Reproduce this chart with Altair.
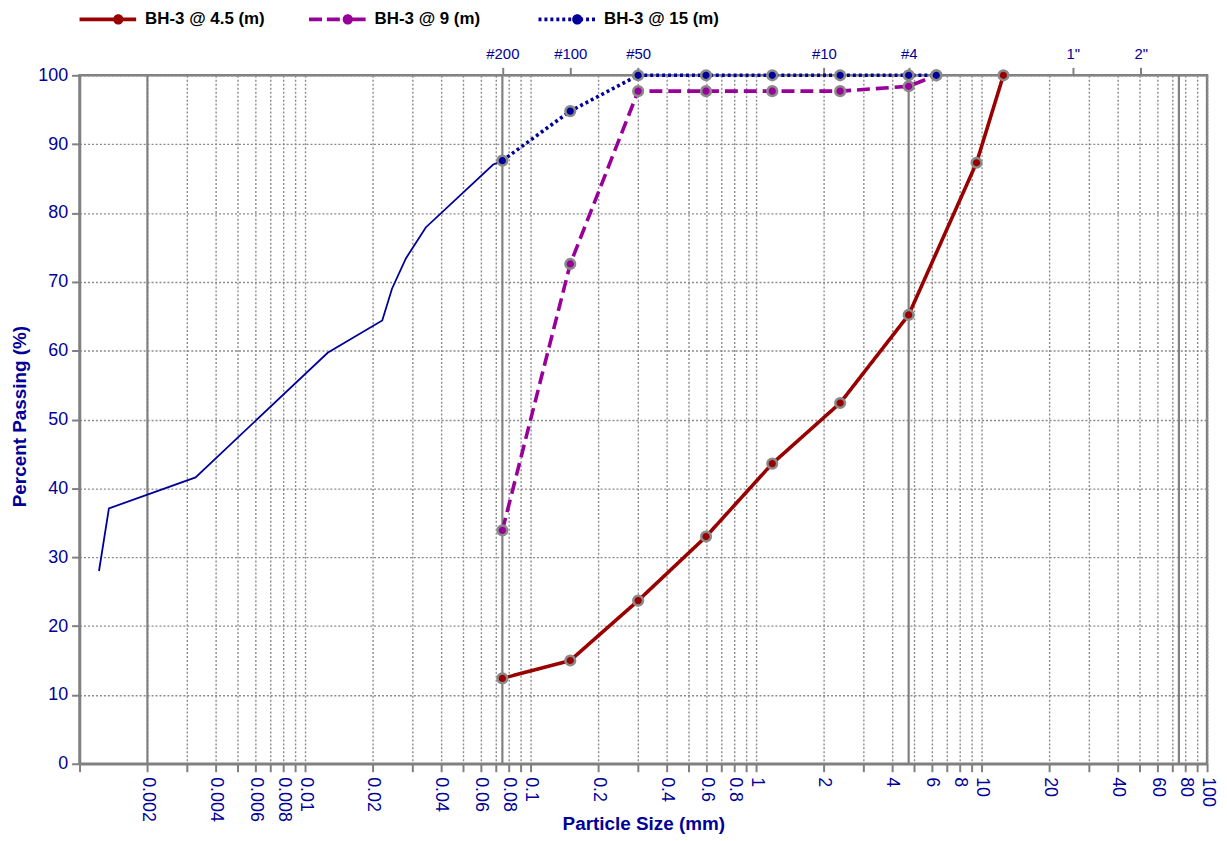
import altair as alt
import pandas as pd

# ---------------- data ----------------
series_names = ["BH-3 @ 4.5 (m)", "BH-3 @ 9 (m)", "BH-3 @ 15 (m)"]
series_colors = ["#990000", "#990099", "#000099"]

size_45 = [0.075, 0.15, 0.3, 0.6, 1.18, 2.36, 4.75, 9.5, 12.5]
pass_45 = [12.4, 15.0, 23.7, 33.0, 43.6, 52.4, 65.2, 87.3, 100.0]

size_9 = [0.075, 0.15, 0.3, 0.6, 1.18, 2.36, 4.75, 6.3]
pass_9 = [33.9, 72.6, 97.7, 97.7, 97.7, 97.7, 98.4, 100.0]

size_15 = [0.075, 0.15, 0.3, 0.6, 1.18, 2.36, 4.75, 6.3]
pass_15 = [87.6, 94.8, 100.0, 100.0, 100.0, 100.0, 100.0, 100.0]

# hydrometer part of BH-3 @ 15
hyd_size = [0.00122, 0.00135, 0.00327, 0.0126, 0.0220, 0.0243, 0.0280, 0.0343, 0.0681, 0.075]
hyd_pass = [28.0, 37.1, 41.6, 59.7, 64.4, 69.0, 73.4, 77.9, 87.0, 87.6]

# soil-class boundaries (clay/silt, silt/sand, sand/gravel, gravel/cobble)
boundary_sizes = [0.002, 0.075, 4.75, 75]

# sieve marks on the top axis
sieve_sizes = [0.075, 0.15, 0.3, 2.0, 4.75, 25.4, 50.8]
sieve_labels = ["#200", "#100", "#50", "#10", "#4", '1"', '2"']

# bottom axis ticks and labels
x_ticks = [round(m * 10 ** e, 6) for e in range(-3, 2) for m in range(1, 10)] + [100]
x_labeled = [0.002, 0.004, 0.006, 0.008, 0.01, 0.02, 0.04, 0.06, 0.08, 0.1, 0.2, 0.4,
             0.6, 0.8, 1, 2, 4, 6, 8, 10, 20, 40, 60, 80, 100]
y_ticks = [0, 10, 20, 30, 40, 50, 60, 70, 80, 90, 100]

# ---------------- tables ----------------
series_data = [(series_names[0], size_45, pass_45),
               (series_names[1], size_9, pass_9),
               (series_names[2], size_15, pass_15)]
rows = []
for name, xs, ys in series_data:
    for s, p in zip(xs, ys):
        rows.append({"series": name, "size": s, "pct": p})
df = pd.DataFrame(rows)
hyd = pd.DataFrame({"size": hyd_size, "pct": hyd_pass})
bounds = pd.DataFrame({"size": boundary_sizes, "y0": [0] * 4, "y1": [100] * 4})
sieves = pd.DataFrame({"size": sieve_sizes, "pct": [100] * len(sieve_sizes)})

# ---------------- legend symbol paths ----------------
H = 0.065
def rect(a, b):
    return f"M{a:.3f},{-H} L{b:.3f},{-H} L{b:.3f},{H} L{a:.3f},{H} Z"
CX, R = 0.37, 0.18
circle = f"M{CX - R:.3f},0 A{R},{R} 0 1,1 {CX + R:.3f},0 A{R},{R} 0 1,1 {CX - R:.3f},0 Z"
path_solid = rect(-1, 1) + " " + circle
path_dash = " ".join([rect(-1, -0.54), rect(-0.37, 0.09), rect(0.26, 1)]) + " " + circle
path_dot = " ".join(rect(-1 + 0.21 * k, min(-0.895 + 0.21 * k, 1)) for k in range(10)) + " " + circle

# ---------------- scales / axes ----------------
W, Hh = 1135, 693
xscale = alt.Scale(type="log", domain=[0.001, 100], nice=False)
yscale = alt.Scale(domain=[0, 100], nice=False)
cscale = alt.Scale(domain=series_names, range=series_colors)
NAVY = "#000099"
FONT = "Liberation Sans"

label_list = ",".join(repr(v) for v in x_labeled)
bottom_axis = alt.Axis(
    orient="bottom", values=x_ticks,
    labelExpr=f"indexof([{label_list}], datum.value) >= 0 ? format(datum.value, '~g') : ''",
    labelAngle=90, labelAlign="left", labelBaseline="middle", labelPadding=5,
    labelOverlap=False, labelFlush=False, tickSize=8, grid=True,
    title="Particle Size (mm)", titleY=66, titleBaseline="alphabetic",
)
top_expr = " : ".join(f"datum.value == {s} ? '{l}'" for s, l in zip(sieve_sizes, sieve_labels)) + " : ''"
top_axis = alt.Axis(
    orient="top", values=sieve_sizes, labelExpr=top_expr, labelAngle=0,
    labelAlign="center", labelBaseline="alphabetic", labelPadding=9,
    labelFontSize=15, labelOverlap=False, labelFlush=False, tickSize=8,
    grid=False, domain=False, title=None,
)
y_axis = alt.Axis(
    values=y_ticks, tickSize=8, grid=True, labelPadding=4, labelFlush=False,
    title="Percent Passing (%)", titleAngle=270, titleX=-54, titleY=343,
    titleBaseline="alphabetic", titleAlign="center",
)

def xy(axis_x=None):
    return dict(
        x=alt.X("size:Q", scale=xscale, axis=axis_x),
        y=alt.Y("pct:Q", scale=yscale, axis=y_axis),
    )

# ---------------- layers ----------------
rules = alt.Chart(bounds).mark_rule(color="#808080", strokeWidth=2.2).encode(
    x=alt.X("size:Q", scale=xscale, axis=bottom_axis),
    y=alt.Y("y0:Q", scale=yscale, axis=y_axis),
    y2="y1:Q",
)

top = alt.Chart(sieves).mark_point(opacity=0).encode(**xy(top_axis))

hyd_line = alt.Chart(hyd).mark_line(color=NAVY, strokeWidth=1.8).encode(**xy())

dashes = [[1, 0], [13, 6], [3, 3]]
line_layers = []
point_layers = []
for (name, xs, ys), col, dash in zip(series_data, series_colors, dashes):
    sub = pd.DataFrame({"size": xs, "pct": ys})
    line_layers.append(
        alt.Chart(sub).mark_line(color=col, strokeWidth=3.6, strokeDash=dash).encode(**xy())
    )
    point_layers.append(
        alt.Chart(sub).mark_circle(size=95, fill=col, stroke="#8a8a8a", strokeWidth=2.5,
                                   opacity=1, fillOpacity=1).encode(**xy())
    )

leg = alt.Legend(
    orient="none", legendX=0, legendY=-85, direction="horizontal", title=None,
    symbolSize=3249, symbolStrokeWidth=0, symbolOpacity=1,
    labelFont=FONT, labelFontSize=17, labelFontWeight="bold", labelColor="black",
    labelOffset=9, columnPadding=44, gridAlign="all", padding=0,
)
legend_layer = alt.Chart(df).mark_point(filled=True).encode(
    x=alt.X("size:Q", scale=xscale, axis=None),
    y=alt.Y("pct:Q", scale=yscale, axis=y_axis),
    color=alt.Color("series:N", scale=cscale, legend=leg),
    shape=alt.Shape("series:N",
                    scale=alt.Scale(domain=series_names, range=[path_solid, path_dash, path_dot]),
                    legend=leg),
).transform_filter("datum.pct > 1000")

chart = alt.layer(rules, top, hyd_line, *line_layers, *point_layers, legend_layer).resolve_axis(
    x="independent"
).properties(
    width=W, height=Hh,
    autosize=alt.AutoSizeParams(type="none"),
    padding={"left": 72, "top": 65, "right": 12, "bottom": 75},
    background="white",
).configure_view(
    stroke="#808080", strokeWidth=2.5
).configure_axis(
    labelFont=FONT, titleFont=FONT, labelColor=NAVY, titleColor=NAVY,
    labelFontSize=18, titleFontSize=19, titleFontWeight="bold",
    domainColor="#808080", domainWidth=2.5, tickColor="#808080", tickWidth=2,
    gridColor="#8a8a8a", gridDash=[2, 2], gridWidth=1.4,
)

chart.save("out.html", embed_options={"renderer": "svg", "actions": False})
